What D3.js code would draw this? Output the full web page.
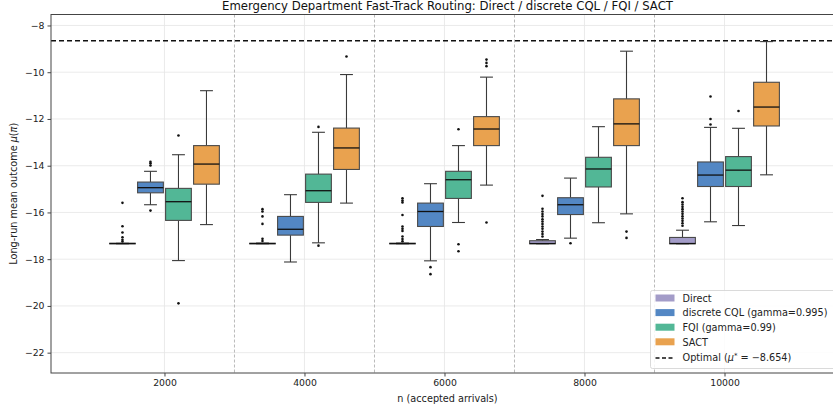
<!DOCTYPE html>
<html><head><meta charset="utf-8">
<script src="https://cdn.jsdelivr.net/npm/d3@7"></script>
<style>body{margin:0;background:#fff}svg{display:block;font-family:"DejaVu Sans",sans-serif}</style>
</head><body><svg id="c" width="833" height="408"></svg>
<script>
const sizes = [2000, 4000, 6000, 8000, 10000];
const methods = ["Direct", "discrete CQL (gamma=0.995)", "FQI (gamma=0.99)", "SACT"];
const colors = ["#a39cc8", "#5387c4", "#52b796", "#e9a24f"];
const yTicks = [-22, -20, -18, -16, -14, -12, -10, -8];
const separators = [3000, 5000, 7000, 9000];
const optimal = -8.654;
// [whiskerLow, q1, median, q3, whiskerHigh] per size
const directStats = [[-17.34,-17.34,-17.33,-17.32,-17.32],[-17.34,-17.34,-17.33,-17.32,-17.31],[-17.34,-17.34,-17.33,-17.32,-17.31],[-17.34,-17.34,-17.33,-17.21,-17.16],[-17.34,-17.34,-17.33,-17.07,-16.76]];
const directOut = [[-15.59,-16.59,-16.86,-17.06,-17.17,-17.24],[-15.86,-15.96,-16.17,-16.49,-17.13,-17.22],[-15.39,-15.49,-15.57,-16.11,-16.60,-16.70,-16.79,-17.03,-17.14,-17.23],[-15.29,-15.84,-15.96,-16.07,-16.17,-16.29,-16.39,-16.49,-16.60,-16.70,-16.82,-16.92,-17.03],[-15.39,-15.56,-15.66,-15.76,-15.86,-15.96,-16.06,-16.16,-16.26,-16.36,-16.46,-16.57]];
const cqlStats = [[-15.67,-15.16,-14.94,-14.70,-14.24],[-18.12,-16.97,-16.72,-16.17,-15.24],[-18.07,-16.60,-15.96,-15.60,-14.77],[-17.10,-16.09,-15.67,-15.37,-14.53],[-16.40,-14.89,-14.40,-13.84,-12.36]];
const cqlOut = [[-13.83,-13.90,-13.99,-15.92],[],[-18.34,-18.64],[-17.32],[-11.04,-12.00,-12.24]];
const fqiStats = [[-18.06,-16.34,-15.54,-14.97,-13.53],[-17.30,-15.57,-15.07,-14.36,-12.57],[-16.43,-15.40,-14.60,-14.24,-13.14],[-16.44,-14.91,-14.14,-13.64,-12.33],[-16.56,-14.89,-14.19,-13.61,-12.40]];
const fqiOut = [[-12.71,-19.89],[-12.34,-17.42],[-12.44,-17.36,-17.66],[],[-11.66]];
const sactStats = [[-16.52,-14.79,-13.93,-13.14,-10.79],[-15.60,-14.16,-13.24,-12.39,-10.10],[-14.83,-13.14,-12.43,-11.90,-10.21],[-16.06,-13.14,-12.21,-11.14,-9.10],[-14.39,-12.30,-11.49,-10.43,-8.69]];
const sactOut = [[],[-9.33],[-9.46,-9.60,-9.74,-16.43],[-16.82,-17.09],[]];

const allStats = [directStats, cqlStats, fqiStats, sactStats];
const allOut = [directOut, cqlOut, fqiOut, sactOut];

const svg = d3.select("#c");
const L = 51, R = 844, T = 14.5, B = 373;
const x = d3.scaleLinear().domain([379, 11707]).range([L, R]);
const y = d3.scaleLinear().domain([-22.87, -7.53]).range([B, T]);
const FS = 9.7;

// grid
const g = svg.append("g");
g.selectAll(".gy").data(yTicks).join("line").attr("x1", L).attr("x2", R)
  .attr("y1", d => y(d)).attr("y2", d => y(d)).attr("stroke", "#e6e6e6").attr("stroke-width", 0.8);
g.selectAll(".gx").data(sizes).join("line").attr("y1", T).attr("y2", B)
  .attr("x1", d => x(d)).attr("x2", d => x(d)).attr("stroke", "#e6e6e6").attr("stroke-width", 0.8);
g.selectAll(".sep").data(separators).join("line").attr("y1", T).attr("y2", B)
  .attr("x1", d => x(d)).attr("x2", d => x(d)).attr("stroke", "#a8a8a8").attr("stroke-width", 0.8).attr("stroke-dasharray", "3,2");

// optimal
svg.append("line").attr("x1", L).attr("x2", R).attr("y1", y(optimal)).attr("y2", y(optimal))
  .attr("stroke", "#111").attr("stroke-width", 1.3).attr("stroke-dasharray", "5,3");

// boxes
sizes.forEach((n, i) => {
  const band = d3.scaleBand().domain(methods).range([x(n - 800), x(n + 800)]).paddingInner(0.08).paddingOuter(0.04);
  methods.forEach((m, j) => {
    const s = allStats[j][i];
    const bx = band(m), bw = band.bandwidth(), cx = bx + bw / 2, cw = bw / 2;
    const gg = svg.append("g");
    gg.append("line").attr("x1", cx).attr("x2", cx).attr("y1", y(s[0])).attr("y2", y(s[1])).attr("stroke", "#3a3a3a").attr("stroke-width", 1.1);
    gg.append("line").attr("x1", cx).attr("x2", cx).attr("y1", y(s[3])).attr("y2", y(s[4])).attr("stroke", "#3a3a3a").attr("stroke-width", 1.1);
    gg.append("line").attr("x1", cx - cw / 2).attr("x2", cx + cw / 2).attr("y1", y(s[0])).attr("y2", y(s[0])).attr("stroke", "#3a3a3a").attr("stroke-width", 1.1);
    gg.append("line").attr("x1", cx - cw / 2).attr("x2", cx + cw / 2).attr("y1", y(s[4])).attr("y2", y(s[4])).attr("stroke", "#3a3a3a").attr("stroke-width", 1.1);
    gg.append("rect").attr("x", bx).attr("width", bw).attr("y", y(s[3])).attr("height", Math.max(0.5, y(s[1]) - y(s[3])))
      .attr("fill", colors[j]).attr("stroke", "#4a4a4a").attr("stroke-width", 1.1);
    gg.append("line").attr("x1", bx).attr("x2", bx + bw).attr("y1", y(s[2])).attr("y2", y(s[2])).attr("stroke", "#111").attr("stroke-width", 1.3);
    gg.selectAll("circle").data(allOut[j][i]).join("circle").attr("cx", cx).attr("cy", d => y(d)).attr("r", 1.3).attr("fill", "#111");
  });
});

// frame
svg.append("rect").attr("x", L).attr("y", T).attr("width", R - L).attr("height", B - T).attr("fill", "none").attr("stroke", "#444").attr("stroke-width", 1);

// axes
const ax = svg.append("g").attr("transform", `translate(0,${B})`)
  .call(d3.axisBottom(x).tickValues(sizes).tickFormat(d3.format("d")).tickSize(3.5).tickPadding(3));
const ay = svg.append("g").attr("transform", `translate(${L},0)`)
  .call(d3.axisLeft(y).tickValues(yTicks).tickFormat(d => d < 0 ? "\u2212" + Math.abs(d) : d).tickSize(3.5).tickPadding(3));
[ax, ay].forEach(a => {
  a.select(".domain").remove();
  a.selectAll("text").attr("font-size", 9.3).attr("fill", "#222").attr("font-family", "DejaVu Sans");
  a.selectAll("line").attr("stroke", "#444");
});

svg.append("text").attr("x", (L + R) / 2).attr("y", 9.5).attr("text-anchor", "middle").attr("font-size", 11.7).attr("fill", "#111")
  .text("Emergency Department Fast-Track Routing: Direct / discrete CQL / FQI / SACT");
svg.append("text").attr("x", (L + R) / 2).attr("y", 401.5).attr("text-anchor", "middle").attr("font-size", FS).attr("fill", "#222")
  .text("n (accepted arrivals)");
const yl = svg.append("text").attr("transform", `translate(16.5,${(T + B) / 2}) rotate(-90)`).attr("text-anchor", "middle").attr("font-size", FS).attr("fill", "#222");
yl.append("tspan").text("Long-run mean outcome ");
yl.append("tspan").attr("font-style", "italic").text("\u03bc");
yl.append("tspan").text("(");
yl.append("tspan").attr("font-style", "italic").text("\u03c0");
yl.append("tspan").text(")");

// legend
const lg = svg.append("g").attr("transform", "translate(650.5,290.5)");
lg.append("rect").attr("width", 200).attr("height", 78).attr("rx", 2).attr("fill", "rgba(255,255,255,0.85)").attr("stroke", "#d0d0d0").attr("stroke-width", 0.8);
methods.forEach((m, j) => {
  lg.append("rect").attr("x", 5).attr("y", 4 + j * 14.6).attr("width", 19).attr("height", 7).attr("fill", colors[j]);
  lg.append("text").attr("x", 32).attr("y", 11.3 + j * 14.6).attr("font-size", FS).attr("fill", "#222").text(m);
});
lg.append("line").attr("x1", 5).attr("x2", 24).attr("y1", 67.5).attr("y2", 67.5).attr("stroke", "#111").attr("stroke-width", 1.3).attr("stroke-dasharray", "4,2.5");
const t = lg.append("text").attr("x", 32).attr("y", 70.5).attr("font-size", FS).attr("fill", "#222");
t.append("tspan").text("Optimal (");
t.append("tspan").attr("font-style", "italic").text("\u03bc");
t.append("tspan").attr("dy", -3.5).attr("font-size", 7).text("*");
t.append("tspan").attr("dy", 3.5).text(" = \u22128.654)");
</script></body></html>
